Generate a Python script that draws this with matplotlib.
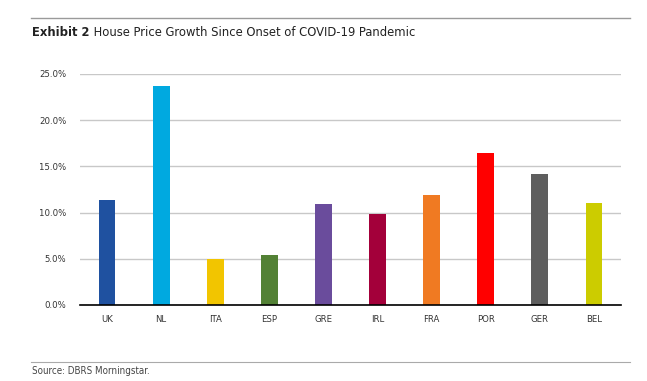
import matplotlib
matplotlib.use("Agg")
import matplotlib.pyplot as plt
from matplotlib.lines import Line2D
from matplotlib.ticker import FuncFormatter, MultipleLocator
from matplotlib import font_manager as fm

categories = ["UK", "NL", "ITA", "ESP", "GRE", "IRL", "FRA", "POR", "GER", "BEL"]
values = [11.4, 23.7, 5.0, 5.4, 10.9, 9.9, 11.9, 16.4, 14.2, 11.0]
colors = ["#1F51A0", "#00A9E0", "#F2C500", "#538135", "#6A4C9C", "#A3003A",
          "#F07A22", "#FF0000", "#5E5E5E", "#CCCC00"]
title_bold = "Exhibit 2"
title_rest = " House Price Growth Since Onset of COVID-19 Pandemic"
source = "Source: DBRS Morningstar."

# pick a condensed font if available
fonts = fm.fontManager.ttflist
narrow = None
for f in fonts:
    if f.name == 'Liberation Sans Narrow':
        narrow = ('Liberation Sans Narrow', 'normal')
        break
if narrow is None:
    for f in fonts:
        if f.name == 'DejaVu Sans' and 'Condensed' in f.fname:
            narrow = ('DejaVu Sans', 'condensed')
            break
if narrow is None:
    for f in fonts:
        if 'Condensed' in f.name or 'Narrow' in f.name:
            narrow = (f.name, 'normal')
            break
if narrow is None:
    narrow = ('Liberation Sans', 'normal')
family, stretch = narrow
plt.rcParams['font.family'] = [family, 'DejaVu Sans']
plt.rcParams['font.stretch'] = stretch

W, H = 647, 381
fig = plt.figure(figsize=(W / 100, H / 100), dpi=100)
ax = fig.add_axes([80 / W, 1 - 305 / H, 541 / W, (305 - 74) / H])

x = list(range(len(categories)))
ax.bar(x, values, width=0.31, color=colors, zorder=3)
ax.set_xlim(-0.5, len(categories) - 0.5)
ax.set_ylim(0, 25)
ax.yaxis.set_major_locator(MultipleLocator(5))
ax.yaxis.set_major_formatter(FuncFormatter(lambda v, p: f"{v:.1f}%"))
ax.set_xticks(x)
ax.set_xticklabels(categories)
ax.grid(axis='y', color='#C8C8C8', linewidth=1.0, zorder=0)
for s in ['top', 'right', 'left']:
    ax.spines[s].set_visible(False)
ax.spines['bottom'].set_color('black')
ax.spines['bottom'].set_linewidth(1.2)
ax.spines['bottom'].set_zorder(4)
ax.tick_params(axis='both', length=0, labelsize=6.8, colors='#333333')
ax.tick_params(axis='y', pad=10)
ax.tick_params(axis='x', pad=7)

# header and footer rules
fig.add_artist(Line2D([31 / W, 630 / W], [1 - 17.5 / H, 1 - 17.5 / H], color='#9A9A9A', lw=1.0))
fig.add_artist(Line2D([31 / W, 630 / W], [1 - 362 / H, 1 - 362 / H], color='#AAAAAA', lw=0.8))

t1 = fig.text(32 / W, 1 - 33 / H, title_bold, fontsize=9.3, fontweight='bold',
              va='center', ha='left', color='#222222')
fig.canvas.draw()
bb = t1.get_window_extent()
fig.text(bb.x1 / W, 1 - 33 / H, title_rest, fontsize=9.3, va='center', ha='left',
         color='#222222')

fig.text(32 / W, 1 - 371 / H, source, fontsize=7, va='center', ha='left', color='#444444')

fig.savefig("out.png", dpi=100)
